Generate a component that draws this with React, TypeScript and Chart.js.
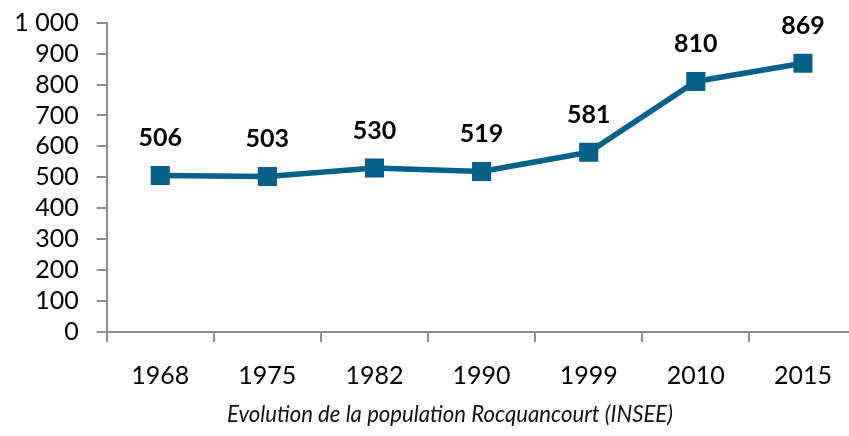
import React, { useEffect, useRef } from "react";
import { Chart, registerables } from "chart.js";

Chart.register(...registerables);

const categories = ["1968", "1975", "1982", "1990", "1999", "2010", "2015"];
const population = [506, 503, 530, 519, 581, 810, 869];
const yMin = 0;
const yMax = 1000;
const yStep = 100;
const axisTitle = "Evolution de la population Rocquancourt (INSEE)";

const LINE_COLOR = "#03618a";
const AXIS_COLOR = "#8e8e8e";
const FONT = "Lato, 'Open Sans', sans-serif";

const fmt = (v: number) => {
  const s = String(v);
  return s.length > 3 ? s.slice(0, s.length - 3) + " " + s.slice(-3) : s;
};

export default function App() {
  const ref = useRef<HTMLCanvasElement | null>(null);

  useEffect(() => {
    if (!ref.current) return;
    const labelPlugin = {
      id: "valueLabels",
      afterDatasetsDraw(chart: any) {
        const ctx = chart.ctx;
        const meta = chart.getDatasetMeta(0);
        ctx.save();
        ctx.font = `bold 25px ${FONT}`;
        ctx.fillStyle = "#000";
        ctx.textAlign = "center";
        ctx.textBaseline = "middle";
        meta.data.forEach((pt: any, i: number) => {
          ctx.fillText(String(population[i]), pt.x, pt.y - 37.5);
        });
        ctx.restore();
      },
    };
    const titlePlugin = {
      id: "bottomTitle",
      afterDraw(chart: any) {
        const ctx = chart.ctx;
        ctx.save();
        ctx.font = `italic 24px ${FONT}`;
        ctx.fillStyle = "#111";
        ctx.textAlign = "center";
        ctx.textBaseline = "alphabetic";
        ctx.fillText(axisTitle, 450, 421.5, 446);
        ctx.restore();
      },
    };
    const chart = new Chart(ref.current, {
      type: "line",
      data: {
        labels: categories,
        datasets: [
          {
            data: population,
            borderColor: LINE_COLOR,
            backgroundColor: LINE_COLOR,
            borderWidth: 5.5,
            pointStyle: "rect",
            pointRadius: 13.5,
            pointHoverRadius: 13.5,
            pointBackgroundColor: LINE_COLOR,
            pointBorderColor: LINE_COLOR,
            pointBorderWidth: 0,
            tension: 0,
            fill: false,
          },
        ],
      },
      options: {
        responsive: false,
        animation: false,
        devicePixelRatio: 1,
        layout: { padding: { left: 0, right: 12, top: 22.7, bottom: 0 } },
        plugins: {
          legend: { display: false },
          tooltip: { enabled: false },
          title: { display: false },
        },
        scales: {
          x: {
            type: "category",
            offset: true,
            grid: {
              offset: true,
              drawOnChartArea: false,
              drawTicks: true,
              tickLength: 10,
              color: AXIS_COLOR,
              lineWidth: 2,
            },
            border: { display: true, color: AXIS_COLOR, width: 2 },
            ticks: {
              color: "#000",
              font: { family: FONT, size: 25 },
              padding: 19,
              maxRotation: 0,
              autoSkip: false,
            },
            afterFit(scale: any) {
              scale.height = 104;
              scale.paddingLeft = 0;
              scale.paddingRight = 0;
              scale.paddingTop = 0;
              scale.paddingBottom = 0;
            },
          },
          y: {
            min: yMin,
            max: yMax,
            grid: {
              drawOnChartArea: false,
              drawTicks: true,
              tickLength: 10,
              color: AXIS_COLOR,
              lineWidth: 2,
            },
            border: { display: true, color: AXIS_COLOR, width: 2 },
            ticks: {
              stepSize: yStep,
              autoSkip: false,
              color: "#000",
              font: { family: FONT, size: 25 },
              padding: 18,
              callback: (v: any) => fmt(Number(v)),
            },
            afterFit(scale: any) {
              scale.width = 106.7;
              scale.paddingLeft = 0;
              scale.paddingRight = 0;
              scale.paddingTop = 0;
              scale.paddingBottom = 0;
            },
          },
        },
      },
      plugins: [labelPlugin, titlePlugin],
    });
    return () => chart.destroy();
  }, []);

  return (
    <div
      style={{
        position: "fixed",
        left: 0,
        top: 0,
        width: 849,
        height: 436,
        overflow: "hidden",
        background: "#fff",
      }}
    >
      <canvas ref={ref} width={870} height={436} style={{ width: 870, height: 436, display: "block" }} />
    </div>
  );
}
